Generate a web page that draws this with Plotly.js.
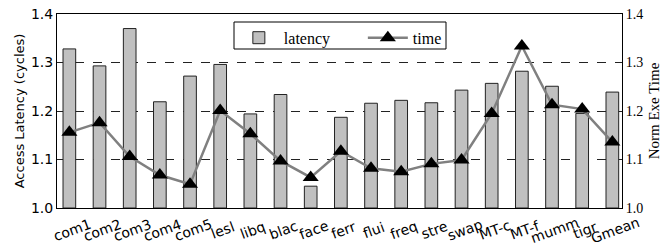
<!DOCTYPE html>
<html>
<head>
<meta charset="utf-8">
<script src="https://cdn.plot.ly/plotly-3.0.1.min.js"></script>
<style>html,body{margin:0;padding:0;background:#fff;}#chart{width:672px;height:246px;}</style>
</head>
<body>
<div id="chart"></div>
<script>
const categories = ["com1","com2","com3","com4","com5","lesl","libq","blac","face","ferr","flui","freq","stre","swap","MT-c","MT-f","mumm","tigr","Gmean"];
const latency = [1.328,1.293,1.370,1.219,1.272,1.296,1.194,1.234,1.045,1.187,1.216,1.222,1.217,1.243,1.257,1.282,1.251,1.195,1.239];
const time = [1.156,1.176,1.106,1.068,1.049,1.201,1.153,1.097,1.063,1.117,1.082,1.075,1.091,1.099,1.195,1.334,1.213,1.204,1.136];
const yTicks = [1.0,1.1,1.2,1.3,1.4];
const yTickText = ["1.0","1.1","1.2","1.3","1.4"];

const xIdx = categories.map((c,i)=>i);
const data = [
  {type:'bar', name:'latency', x:xIdx, y:latency.map(v=>v-1.0), base:1.0,
   width:0.42, marker:{color:'#c0c0c0', line:{color:'#222', width:1}}, yaxis:'y', hoverinfo:'skip'},
  {type:'scatter', mode:'lines+markers', name:'time', x:xIdx, y:time, yaxis:'y2',
   line:{color:'#808080', width:2.5}, marker:{symbol:'triangle-up', size:14, color:'#000'}}
];
const labelFont = {family:'DejaVu Sans, sans-serif', size:14, color:'#000'};
const annotations = categories.map((c,i)=>({
  x:i, xref:'x', y:-0.115, yref:'paper', text:c, showarrow:false, xshift:3,
  textangle:-20, xanchor:'center', yanchor:'middle', font:labelFont
}));
const serif = 'Liberation Serif, Times New Roman, serif';
const layout = {
  width:672, height:246,
  margin:{l:57, r:50, t:14, b:38},
  paper_bgcolor:'#fff', plot_bgcolor:'#fff',
  showlegend:true,
  legend:{orientation:'h', x:0.313, y:0.965, xanchor:'left', yanchor:'top',
    borderwidth:0, bgcolor:'rgba(0,0,0,0)',
    font:{family:serif, size:16, color:'#000'},
    entrywidth:74, itemwidth:40, tracegroupgap:0},
  shapes:[{type:'rect', xref:'paper', yref:'paper', x0:(234-57)/565, x1:(446-57)/565,
    y0:(208-49)/194, y1:(208-22)/194, line:{color:'#000', width:1}, fillcolor:'#fff', layer:'below'}],
  annotations:annotations,
  xaxis:{range:[-0.41,18.32], tickvals:xIdx, showticklabels:false,
    showgrid:false, zeroline:false, showline:true, linecolor:'#000', linewidth:1, mirror:true, ticks:''},
  yaxis:{range:[1.0,1.4], tickvals:yTicks, ticktext:yTickText, showgrid:true,
    gridcolor:'#222', griddash:'dash', gridwidth:1, zeroline:false,
    showline:true, linecolor:'#000', linewidth:1, ticks:'',
    tickfont:{family:'DejaVu Sans, sans-serif', size:14, color:'#000'},
    title:{text:'Access Latency (cycles)', font:{family:'DejaVu Sans, sans-serif', size:13, color:'#000'}, standoff:3}},
  yaxis2:{range:[1.0,1.4], tickvals:yTicks, ticktext:yTickText, overlaying:'y', side:'right',
    showgrid:false, zeroline:false, showline:true, linecolor:'#000', linewidth:1, ticks:'',
    tickfont:{family:serif, size:14, color:'#000'},
    title:{text:'Norm Exe Time', font:{family:serif, size:15, color:'#000'}, standoff:6}}
};
Plotly.newPlot('chart', data, layout, {displayModeBar:false, staticPlot:true});
</script>
</body>
</html>
